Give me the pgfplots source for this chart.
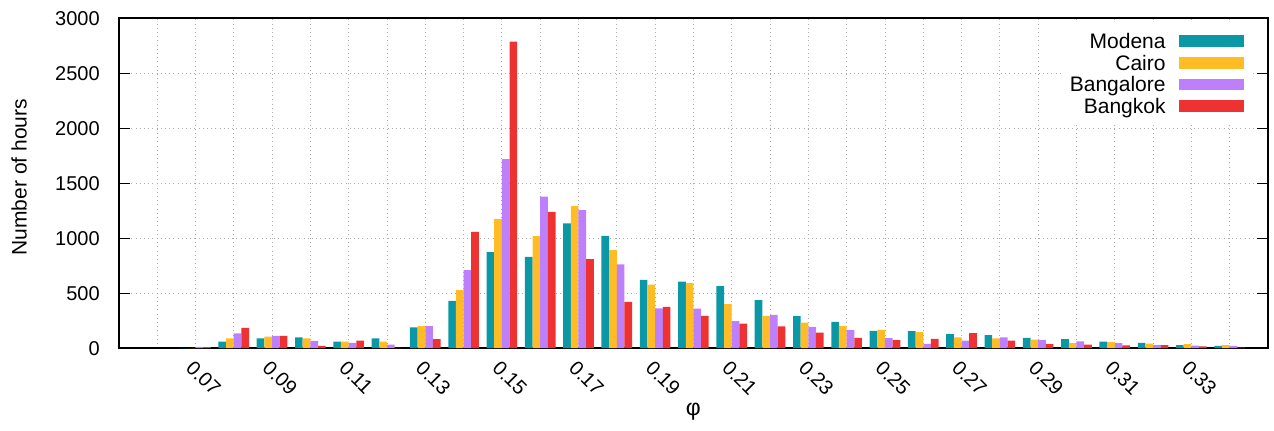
\documentclass[border=0pt]{standalone}
\usepackage{fontspec}
\setmainfont{Liberation Sans}
\usepackage{pgfplots}
\pgfplotsset{compat=1.18}
\usepackage{pgfplotstable}
\usetikzlibrary{calc}
\definecolor{cMod}{RGB}{10,152,166}
\definecolor{cCai}{RGB}{255,188,36}
\definecolor{cBgl}{RGB}{190,128,250}
\definecolor{cBkk}{RGB}{238,50,50}
\pgfplotstableread{
k Modena Cairo Bangalore Bangkok
7 0 0 12 10
8 59 88 134 185
9 88 105 111 111
10 98 88 65 20
11 59 59 47 68
12 88 59 32 3
13 190 200 200 82
14 430 528 710 1058
15 873 1174 1720 2787
16 831 1019 1377 1240
17 1134 1292 1256 810
18 1022 892 761 421
19 621 578 362 376
20 606 591 360 294
21 563 400 245 224
22 436 294 303 197
23 291 233 194 142
24 239 203 164 94
25 158 167 91 73
26 155 145 39 85
27 127 97 69 136
28 118 88 97 69
29 94 78 76 36
30 82 45 62 33
31 60 55 45 25
32 47 42 28 27
33 28 37 24 16
34 20 28 20 4
}\datatable
\begin{document}
\begin{tikzpicture}
\begin{axis}[name=ax, scale only axis, width=574.5pt, height=164.9pt,
  xmin=5, xmax=35, ymin=0, ymax=3000,
  ybar, bar width=0.2,
  ytick={0,500,...,3000},
  scaled y ticks=false,
  xtick={7,9,...,33},
  xticklabels={0.07,0.09,0.11,0.13,0.15,0.17,0.19,0.21,0.23,0.25,0.27,0.29,0.31,0.33},
  minor xtick={6,8,...,34},
  xmajorgrids, xminorgrids, ymajorgrids,
  grid style={gray!65, line width=0.4pt, dash pattern=on 0.5pt off 1.6pt},
  minor grid style={gray!65, line width=0.4pt, dash pattern=on 0.5pt off 1.6pt},
  xtick style={draw=none},
  minor x tick style={draw=none},
  ytick style={line width=0.5pt, black},
  major tick length=5.5pt,
  tick align=inside,
  axis line style={line width=0.8pt},
  /pgf/number format/assume math mode=true,
  /pgf/number format/1000 sep={},
  yticklabel style={font=\fontsize{10}{12}\selectfont, inner sep=0pt, xshift=-9.35pt},
  xticklabel style={font=\fontsize{10}{12}\selectfont, rotate=-45, anchor=north west, inner sep=0pt, yshift=-4pt, xshift=3.5pt},
  every axis y label/.style={at={(axis description cs:0,0.5)}, xshift=-49.9pt, yshift=3pt, rotate=90, anchor=center, font=\fontsize{10.5}{12}\selectfont},
  every axis x label/.style={at={(axis description cs:0.5,0)}, yshift=-32pt, anchor=center, font=\fontsize{11.5}{12}\selectfont},
  ylabel={Number of hours},
  xlabel={φ},
  legend cell align=right,
  legend plot pos=right,
  legend style={at={(rel axis cs:1,1)}, anchor=north east, xshift=-9pt, yshift=-2.8pt, draw=none, fill=white, inner sep=3pt, font=\fontsize{10.5}{10.8}\selectfont, nodes={inner sep=0pt, text height=9.1pt, text depth=1.7pt}, column sep=6.5pt, row sep=0pt},
  legend image code/.code={\fill[#1] (0pt,-2.9pt) rectangle (32.5pt,2.9pt);},
]
\addplot[fill=cMod, draw=none, bar shift=-0.3] table[x=k, y=Modena] {\datatable};
\addplot[fill=cCai, draw=none, bar shift=-0.1] table[x=k, y=Cairo] {\datatable};
\addplot[fill=cBgl, draw=none, bar shift=0.1] table[x=k, y=Bangalore] {\datatable};
\addplot[fill=cBkk, draw=none, bar shift=0.3] table[x=k, y=Bangkok] {\datatable};
\legend{Modena,Cairo,Bangalore,Bangkok}
\end{axis}
\pgfresetboundingbox
\path[use as bounding box] ($(ax.south west)+(-59.4pt,-41pt)$) rectangle ($(ax.north east)+(3pt,9.15pt)$);
\end{tikzpicture}
\end{document}
